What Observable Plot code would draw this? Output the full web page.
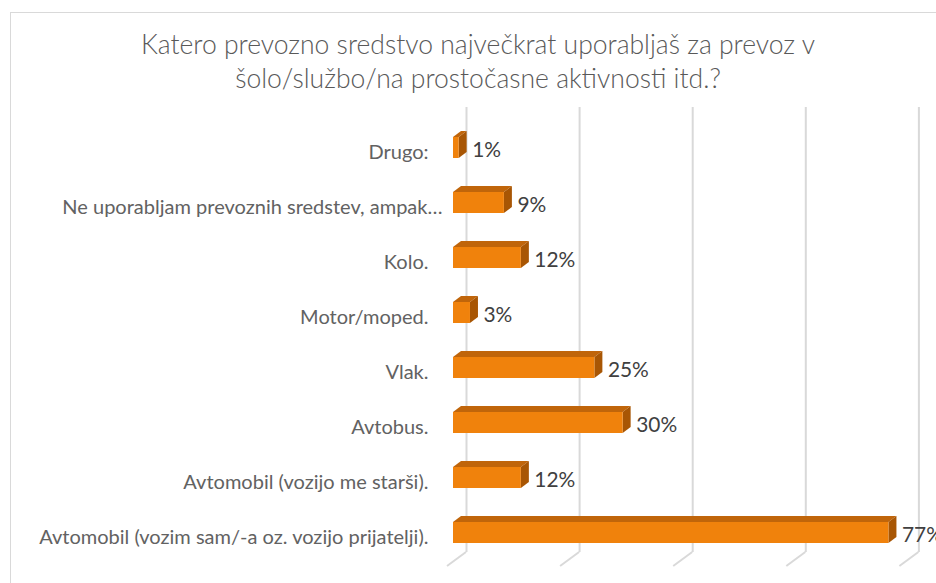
<!DOCTYPE html>
<html><head><meta charset="utf-8">
<script src="https://cdn.jsdelivr.net/npm/d3@7"></script>
<script src="https://cdn.jsdelivr.net/npm/@observablehq/plot@0.6"></script>
<style>
body{margin:0;background:#fff;}
#wrap{position:relative;width:936px;height:583px;overflow:hidden;font-family:Lato,"Open Sans",sans-serif;}
#border{position:absolute;left:10px;top:12px;width:1000px;height:1000px;border:1.5px solid #D9D9D9;box-sizing:border-box;}
#title{position:absolute;left:0;top:27px;width:956px;text-align:center;color:#595959;font-weight:300;font-size:25px;line-height:34px;}
#chart{position:absolute;left:0;top:0;}
</style></head><body>
<div id="wrap"><div id="border"></div><div id="title"></div><div id="chart"></div></div>
<script>
const titleLines = ["Katero prevozno sredstvo največkrat uporabljaš za prevoz v", "šolo/službo/na prostočasne aktivnosti itd.?"];
const categories = [
  "Drugo:",
  "Ne uporabljam prevoznih sredstev, ampak…",
  "Kolo.",
  "Motor/moped.",
  "Vlak.",
  "Avtobus.",
  "Avtomobil (vozijo me starši).",
  "Avtomobil (vozim sam/-a oz. vozijo prijatelji)."
];
const values = [1, 9, 12, 3, 25, 30, 12, 77];
const gridTicks = [0, 20, 40, 60, 80];

const data = categories.map((c, i) => ({category: c, value: values[i]}));

const FRONT = "#F0820C", TOP = "#C0650A", SIDE = "#A85604", GRID = "#D9D9D9";
const DX = 8, DY = -6;       // bar depth
const BDX = 13;              // back plane offset
const FDX = -19, FDY = 14;   // floor depth

function fit(text, weight, target) {
  const c = document.createElement("canvas").getContext("2d");
  c.font = `${weight} 100px Lato`;
  return 100 * target / c.measureText(text).width;
}
const catSize = Math.min(21, fit(categories[7], 400, 390));
const titleSize = Math.min(28, fit(titleLines[0], 300, 675));
const valSize = Math.min(21, fit("30%", 400, 41));

const t = document.getElementById("title");
t.style.fontSize = titleSize + "px";
t.innerHTML = titleLines.join("<br>");

const facesMark = Plot.barX(data, {
  x: "value", y: "category", fill: FRONT,
  render(index, scales, values, dims, context, next) {
    const x = scales.x, y = scales.y;
    const bw = typeof y.bandwidth === "function" ? y.bandwidth() : 21;
    const g = d3.create("svg:g");
    for (const i of index) {
      const d = data[i];
      const x0 = x(0), x1 = x(d.value), top = y(d.category), bot = top + bw;
      g.append("path").attr("fill", TOP)
        .attr("d", `M${x0},${top}L${x1},${top}L${x1 + DX},${top + DY}L${x0 + DX},${top + DY}Z`);
      g.append("path").attr("fill", SIDE)
        .attr("d", `M${x1},${top}L${x1 + DX},${top + DY}L${x1 + DX},${bot + DY}L${x1},${bot}Z`);
    }
    return g.node();
  }
});

const floorMark = Plot.ruleX(gridTicks, {
  x: d => d, stroke: GRID,
  render(index, scales, values, dims) {
    const x = scales.x;
    const yb = dims.height - dims.marginBottom;
    const g = d3.create("svg:g");
    for (const i of index) {
      const xv = x(gridTicks[i]);
      g.append("path").attr("fill", "none").attr("stroke", GRID).attr("stroke-width", 2)
        .attr("d", `M${xv + BDX},${yb}L${xv + BDX + FDX},${yb + FDY}`);
    }
    return g.node();
  }
});

const normalCats = categories.filter((c, i) => i !== 1);
const longCat = [categories[1]];

const plot = Plot.plot({
  width: 936,
  height: 583,
  marginTop: 107,
  marginBottom: 31,
  marginLeft: 440,
  marginRight: 0,
  style: {background: "transparent", overflow: "visible"},
  x: {domain: [0, 80], range: [453, 453 + 80 * 5.655], axis: null},
  y: {domain: categories, range: [135.5, 544], paddingInner: 0.621, paddingOuter: 0, align: 0.5, axis: null},
  marks: [
    Plot.ruleX(gridTicks, {x: d => d, dx: BDX, stroke: GRID, strokeWidth: 2}),
    floorMark,
    facesMark,
    Plot.barX(data, {x: "value", y: "category", fill: FRONT}),
    Plot.axisY({ticks: normalCats, tickSize: 0, tickPadding: 12, dy: 5, fontSize: catSize, fill: "#626262", label: null, fontFamily: "Lato"}),
    Plot.axisY({ticks: longCat, tickSize: 0, tickPadding: -2, dy: 5, fontSize: catSize, fill: "#626262", label: null, fontFamily: "Lato"}),
    Plot.text(data, {x: "value", y: "category", text: d => d.value + "%", textAnchor: "start", dx: 13, dy: 2.5, fontSize: valSize, fill: "#404040", fontFamily: "Lato"})
  ]
});
document.getElementById("chart").appendChild(plot);
</script>
</body></html>
